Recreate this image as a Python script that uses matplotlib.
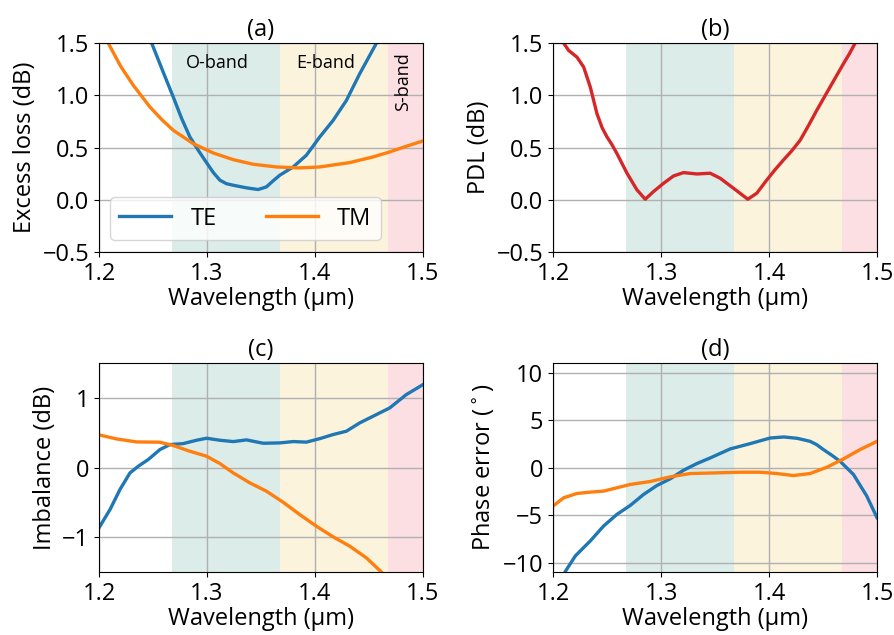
import matplotlib
matplotlib.use('Agg')
import matplotlib.pyplot as plt

plt.rcParams['font.family'] = ['Open Sans', 'DejaVu Sans']
plt.rcParams['font.size'] = 17

# band edges (um)
o_band = (1.2675, 1.3675)
e_band = (1.3675, 1.4675)
s_band = (1.4675, 1.53)

# (a) excess loss
wl_a_te = [1.240, 1.2488, 1.2588, 1.2688, 1.2765, 1.2842, 1.2922, 1.3002, 1.306, 1.312, 1.318,
           1.3243, 1.3366, 1.3474, 1.355, 1.361, 1.3674, 1.3798, 1.392, 1.4044, 1.4168,
           1.4291, 1.4414, 1.4569, 1.466]
el_te = [1.90, 1.50, 1.24, 0.984, 0.78, 0.602, 0.47, 0.347, 0.26, 0.188, 0.155,
         0.14, 0.115, 0.099, 0.124, 0.18, 0.236, 0.315, 0.427, 0.602, 0.761,
         0.952, 1.207, 1.50, 1.70]
wl_a_tm = [1.200, 1.2086, 1.220, 1.2318, 1.2472, 1.258, 1.2688, 1.2873, 1.3058, 1.3243,
           1.3428, 1.3644, 1.3859, 1.4044, 1.4322, 1.4538, 1.4692, 1.4846, 1.500]
el_tm = [1.72, 1.50, 1.28, 1.096, 0.889, 0.77, 0.666, 0.538, 0.449, 0.385,
         0.341, 0.315, 0.306, 0.315, 0.357, 0.411, 0.459, 0.513, 0.564]

# (b) PDL
wl_b = [1.205, 1.2099, 1.2145, 1.2222, 1.2284, 1.2345, 1.2407, 1.2455, 1.250, 1.2545, 1.2592,
        1.2685, 1.2777, 1.2854, 1.2931, 1.3024, 1.3116, 1.3209, 1.3332, 1.3455, 1.3548,
        1.3671, 1.3804, 1.3887, 1.398, 1.4057, 1.4134, 1.4211, 1.4288, 1.4365, 1.4442,
        1.4565, 1.4689, 1.4745, 1.4797, 1.490]
pdl = [1.55, 1.50, 1.43, 1.366, 1.271, 1.08, 0.825, 0.69, 0.602, 0.53, 0.443,
       0.255, 0.096, 0.006, 0.08, 0.159, 0.229, 0.261, 0.248, 0.255, 0.207,
       0.111, 0.006, 0.064, 0.191, 0.29, 0.382, 0.47, 0.57, 0.71, 0.857,
       1.08, 1.303, 1.40, 1.50, 1.70]

# (c) imbalance
wl_c_te = [1.200, 1.2102, 1.2194, 1.2287, 1.2364, 1.2456, 1.2564, 1.2657, 1.278, 1.2903,
           1.2996, 1.312, 1.3243, 1.3366, 1.352, 1.3674, 1.3798, 1.392, 1.4044, 1.4168,
           1.4291, 1.4414, 1.4538, 1.4692, 1.4846, 1.500]
imb_te = [-0.866, -0.603, -0.316, -0.077, 0.019, 0.115, 0.258, 0.33, 0.344, 0.392,
          0.421, 0.392, 0.373, 0.397, 0.349, 0.354, 0.373, 0.365, 0.415, 0.474,
          0.522, 0.641, 0.737, 0.856, 1.048, 1.191]
wl_c_tm = [1.200, 1.2163, 1.2348, 1.2564, 1.2688, 1.2842, 1.2996, 1.312, 1.3243, 1.3397,
           1.3551, 1.3705, 1.3859, 1.4013, 1.4168, 1.4322, 1.4476, 1.4615, 1.475]
imb_tm = [0.469, 0.411, 0.368, 0.364, 0.316, 0.234, 0.163, 0.057, -0.077, -0.22,
          -0.34, -0.498, -0.675, -0.842, -0.995, -1.129, -1.297, -1.50, -1.75]

# (d) phase error
wl_d_te = [1.205, 1.2114, 1.2207, 1.2345, 1.2469, 1.2592, 1.2715, 1.2839, 1.2962, 1.3085,
           1.3209, 1.3332, 1.3455, 1.364, 1.3826, 1.401, 1.4137, 1.4261, 1.4381, 1.4443,
           1.4504, 1.4581, 1.4658, 1.4782, 1.4905, 1.500]
ph_te = [-13.0, -10.94, -9.3, -7.73, -6.15, -4.93, -3.99, -2.83, -1.89, -1.19,
         -0.28, 0.42, 1.01, 1.96, 2.52, 3.11, 3.22, 3.08, 2.76, 2.40,
         1.89, 1.30, 0.66, -0.73, -3.0, -5.28]
wl_d_tm = [1.200, 1.2099, 1.2222, 1.2345, 1.2469, 1.2592, 1.2715, 1.290, 1.3085, 1.327,
           1.3517, 1.3733, 1.3918, 1.4072, 1.4226, 1.4381, 1.4535, 1.4689, 1.4843, 1.500]
ph_tm = [-4.06, -3.18, -2.73, -2.59, -2.48, -2.13, -1.78, -1.47, -0.98, -0.63,
         -0.56, -0.49, -0.49, -0.63, -0.84, -0.63, 0.03, 0.91, 1.89, 2.76]

blue = '#1f77b4'
orange = '#ff7f0e'
red = '#d62728'
lw = 2.4

fig = plt.figure(figsize=(8.95, 6.35), dpi=100)
ax_a = fig.add_axes([0.1106, 0.603, 0.362, 0.329])
ax_b = fig.add_axes([0.6179, 0.603, 0.362, 0.329])
ax_c = fig.add_axes([0.1106, 0.0992, 0.362, 0.329])
ax_d = fig.add_axes([0.6179, 0.0992, 0.362, 0.329])


def bands(ax):
    ax.axvspan(*o_band, color='#dcece8', lw=0, zorder=0)
    ax.axvspan(*e_band, color='#fcf3dc', lw=0, zorder=0)
    ax.axvspan(*s_band, color='#fbdfe3', lw=0, zorder=0)
    ax.grid(True, color='#b0b0b0', lw=1, zorder=1)
    ax.set_axisbelow(True)
    ax.set_xlim(1.2, 1.5)
    ax.set_xticks([1.2, 1.3, 1.4, 1.5])
    ax.set_xlabel('Wavelength (µm)', labelpad=1)


for ax in (ax_a, ax_b, ax_c, ax_d):
    bands(ax)

ax_a.plot(wl_a_te, el_te, color=blue, lw=lw, label='TE')
ax_a.plot(wl_a_tm, el_tm, color=orange, lw=lw, label='TM')
ax_a.set_ylim(-0.5, 1.5)
ax_a.set_yticks([-0.5, 0, 0.5, 1.0, 1.5])
ax_a.set_ylabel('Excess loss (dB)')
ax_a.set_title('(a)', fontsize=17, pad=5)
ax_a.text(1.310, 1.31, 'O-band', ha='center', va='center', fontsize=13)
ax_a.text(1.410, 1.31, 'E-band', ha='center', va='center', fontsize=13)
ax_a.text(1.4815, 1.13, 'S-band', ha='center', va='center', fontsize=13, rotation=90)
ax_a.legend(loc='lower left', bbox_to_anchor=(0.034, 0.057), borderaxespad=0,
            ncol=2, handlelength=2.2, columnspacing=2.1, fontsize=17)

ax_b.plot(wl_b, pdl, color=red, lw=lw)
ax_b.set_ylim(-0.5, 1.5)
ax_b.set_yticks([-0.5, 0, 0.5, 1.0, 1.5])
ax_b.set_ylabel('PDL (dB)')
ax_b.set_title('(b)', fontsize=17, pad=5)

ax_c.plot(wl_c_te, imb_te, color=blue, lw=lw)
ax_c.plot(wl_c_tm, imb_tm, color=orange, lw=lw)
ax_c.set_ylim(-1.5, 1.5)
ax_c.set_yticks([-1, 0, 1])
ax_c.set_ylabel('Imbalance (dB)')
ax_c.set_title('(c)', fontsize=17, pad=5)

ax_d.plot(wl_d_te, ph_te, color=blue, lw=lw)
ax_d.plot(wl_d_tm, ph_tm, color=orange, lw=lw)
ax_d.set_ylim(-11, 11)
ax_d.set_yticks([-10, -5, 0, 5, 10])
ax_d.set_ylabel('Phase error ($^\\circ$)')
ax_d.set_title('(d)', fontsize=17, pad=5)

fig.savefig('out.png', dpi=100)
